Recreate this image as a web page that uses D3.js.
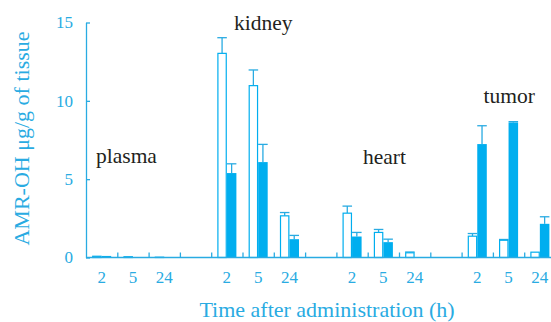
<!DOCTYPE html>
<html>
<head>
<meta charset="utf-8">
<script src="https://cdn.jsdelivr.net/npm/d3@7"></script>
<style>
  body { margin: 0; background: #fff; }
</style>
</head>
<body>
<div id="chart"></div>
<script>
// Dados
const tissues = ["plasma", "kidney", "heart", "tumor"];
const times = ["2", "5", "24"];
// barras abertas (brancas)
const openValues = [
  [0.08, 0.05, 0.02],
  [13.03, 10.97, 2.66],
  [2.83, 1.60, 0.30],
  [1.36, 1.10, 0.34]
];
const openErrors = [
  [0, 0, 0],
  [1.00, 1.00, 0.21],
  [0.45, 0.19, 0.05],
  [0.17, 0.05, 0]
];
// barras cheias (azuis)
const filledValues = [
  [0.10, 0.03, 0.01],
  [5.39, 6.09, 1.17],
  [1.34, 0.98, 0],
  [7.24, 8.62, 2.15]
];
const filledErrors = [
  [0, 0, 0],
  [0.59, 1.13, 0.24],
  [0.26, 0.19, 0],
  [1.17, 0.05, 0.45]
];
const yTicks = [0, 5, 10, 15];
// posição dos rótulos dos tecidos (slot, valor y)
const labelSlot = [0.32, 4.73, 8.85, 12.7];
const labelValue = [6.05, 14.5, 5.95, 9.85];

// Configurações
const W = 551, H = 322;
const margin = { top: 22.5, left: 86, bottom: 64.5 };
const blue = "#00aeef";
const axisBlue = "#29abe2";
const font = "'Liberation Serif', 'Times New Roman', serif";
const slotW = 31.3;

const svg = d3.select("#chart")
  .append("svg")
  .attr("width", W)
  .attr("height", H)
  .style("display", "block");

// slots: 3 tempos por tecido + 1 espaço
const slots = [];
tissues.forEach((t, i) => {
  times.forEach(h => slots.push(t + "-" + h));
  if (i < tissues.length - 1) slots.push(t + "-gap");
});

const x = d3.scaleBand()
  .domain(slots)
  .range([margin.left, margin.left + slots.length * slotW])
  .padding(0);
const xIdx = d3.scaleLinear()
  .domain([0, slots.length])
  .range([margin.left, margin.left + slots.length * slotW]);
const y = d3.scaleLinear()
  .domain([0, 15])
  .range([H - margin.bottom, margin.top]);

const barW = x.bandwidth() * 0.305;

// Barras
const bars = [];
tissues.forEach((t, i) => {
  times.forEach((h, j) => {
    const key = t + "-" + h;
    const cx = x(key) + x.bandwidth() / 2;
    bars.push({ x: cx - barW, v: openValues[i][j], e: openErrors[i][j], filled: false });
    bars.push({ x: cx, v: filledValues[i][j], e: filledErrors[i][j], filled: true });
  });
});

const g = svg.append("g");

// barras de erro
bars.filter(d => d.e > 0).forEach(d => {
  const mx = d.x + barW / 2;
  g.append("line")
    .attr("x1", mx).attr("x2", mx)
    .attr("y1", y(d.v)).attr("y2", y(d.v + d.e))
    .attr("stroke", axisBlue).attr("stroke-width", 1.3);
  g.append("line")
    .attr("x1", d.x).attr("x2", d.x + barW)
    .attr("y1", y(d.v + d.e)).attr("y2", y(d.v + d.e))
    .attr("stroke", axisBlue).attr("stroke-width", 1.3);
});

g.selectAll("rect.bar")
  .data(bars.filter(d => d.v > 0))
  .enter()
  .append("rect")
  .attr("class", "bar")
  .attr("x", d => d.x + (d.filled ? 0 : 0.6))
  .attr("y", d => y(d.v))
  .attr("width", d => barW - (d.filled ? 0 : 1.2))
  .attr("height", d => y(0) - y(d.v))
  .attr("fill", d => d.filled ? blue : "#fff")
  .attr("stroke", blue)
  .attr("stroke-width", d => d.filled ? 0 : 1.2);

// Eixos
const yAxis = svg.append("g")
  .attr("transform", `translate(${margin.left},0)`)
  .call(d3.axisLeft(y).tickValues(yTicks).tickSize(-4).tickPadding(13).tickSizeOuter(0));

const xTickAxis = svg.append("g")
  .attr("transform", `translate(0,${y(0)})`)
  .call(d3.axisBottom(xIdx).tickValues(d3.range(1, slots.length)).tickSize(-5).tickFormat("").tickSizeOuter(0));

const xLabelAxis = svg.append("g")
  .attr("transform", `translate(0,${y(0)})`)
  .call(d3.axisBottom(x)
    .tickValues(slots.filter(s => !s.endsWith("gap")))
    .tickFormat(s => s.split("-")[1])
    .tickSize(0).tickPadding(13.5));
xLabelAxis.select(".domain").remove();

[yAxis, xTickAxis, xLabelAxis].forEach(a => {
  a.attr("font-family", font).attr("font-size", 17);
  a.selectAll("path, line").attr("stroke", axisBlue).attr("stroke-width", 1.3);
  a.selectAll("text").attr("fill", axisBlue);
});
xTickAxis.select(".domain").attr("d", `M${margin.left},0H${W}`);

// Rótulos dos tecidos
svg.selectAll("text.tissue")
  .data(tissues)
  .enter()
  .append("text")
  .attr("class", "tissue")
  .attr("x", (d, i) => xIdx(labelSlot[i]))
  .attr("y", (d, i) => y(labelValue[i]))
  .attr("font-family", font)
  .attr("font-size", 21.5)
  .attr("fill", "#231f20")
  .text(d => d);

// Títulos dos eixos
svg.append("text")
  .attr("x", 327)
  .attr("y", 317)
  .attr("text-anchor", "middle")
  .attr("font-family", font)
  .attr("font-size", 22)
  .attr("fill", axisBlue)
  .text("Time after administration (h)");

svg.append("text")
  .attr("transform", `translate(29,${138.5}) rotate(-90)`)
  .attr("text-anchor", "middle")
  .attr("font-family", font)
  .attr("font-size", 22)
  .attr("fill", axisBlue)
  .text("AMR-OH μg/g of tissue");
</script>
</body>
</html>
